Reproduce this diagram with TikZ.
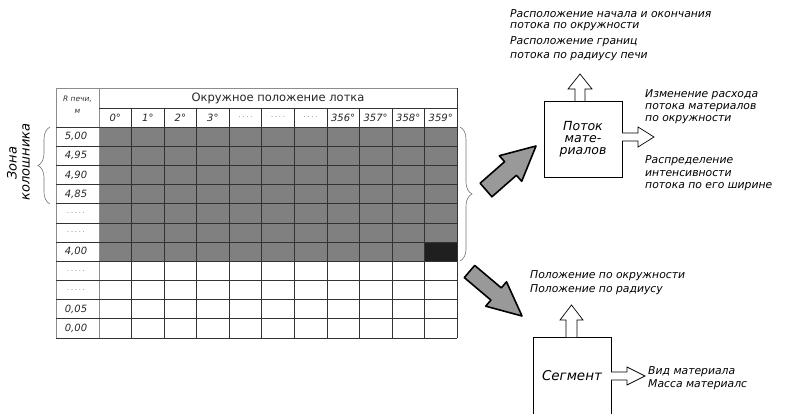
\documentclass[tikz,border=0pt]{standalone}
\usepackage{fontspec}
\setmainfont{DejaVu Sans}
\usetikzlibrary{decorations.pathreplacing}
\tikzset{
  gridline/.style={draw=black!80, line width=0.6pt},
  grayline/.style={draw=black!45, line width=0.6pt},
  hatch/.style={fill=black!50},
  lbl/.style={font=\fontsize{10}{11}\selectfont\itshape, text=black!85, inner sep=0pt},
  dotlbl/.style={font=\fontsize{8}{10}\selectfont, text=black!40, inner sep=0pt},
  note/.style={font=\fontsize{10.8}{12}\selectfont\itshape, anchor=base west, inner sep=0pt},
  bigtxt/.style={font=\fontsize{12.5}{14}\selectfont\itshape},
  bracestyle/.style={draw=black!55, line width=0.6pt, decorate, decoration={brace, amplitude=12pt}},
  blockarrow/.style={fill=black!40, draw=black, line width=1.6pt, line join=round},
  openarrow/.style={fill=white, draw=black, line width=0.7pt, line join=miter},
  boxstyle/.style={draw=black, line width=0.7pt, fill=white}
}
\begin{document}
\begin{tikzpicture}[x=1pt,y=-1pt]
\useasboundingbox (0,0) rectangle (794,414);
% ---- table fills
\fill[hatch] (99,127) rectangle (457,261.2);
\fill[black!88] (424.45,242.0) rectangle (457,261.2);
% ---- grid
\foreach \k in {1,...,10} {
  \draw[gridline] ({99+32.55*\k},108) -- ({99+32.55*\k},338);
}
\draw[grayline] (56,88) -- (56,338);
\draw[grayline] (99,88) -- (99,338);
\draw[gridline] (457,88) -- (457,338);
\draw[grayline] (56,88) -- (457,88);
\draw[gridline] (99,108) -- (457,108);
\foreach \k in {0,...,11} {
  \draw[gridline] (56,{127+19.17*\k}) -- (457,{127+19.17*\k});
}
% ---- header
\node[font=\fontsize{11.5}{13}\selectfont, text=black!85] (hdr) at (278,98) {Окружное положение лотка};
\node[font=\fontsize{7.5}{9}\selectfont\itshape, text=black!80, align=center] (rhdr) at (77.5,105) {R печи,\\[3pt]м};
\foreach \t [count=\i from 0] in {0°,1°,2°,3°} {
  \node[lbl] (c\i) at ({99+32.55*(\i+0.5)},117.5) {\t};
}
\foreach \i in {4,5,6} {
  \node[dotlbl] (c\i) at ({99+32.55*(\i+0.5)},117.5) {.\,.\,.\,.};
}
\foreach \t [count=\i from 7] in {356°,357°,358°,359°} {
  \node[lbl] (c\i) at ({99+32.55*(\i+0.5)},117.5) {\t};
}
\node[lbl] (r0) at (76,{127+19.17*0.5}) {5,00};
\node[lbl] (r1) at (76,{127+19.17*1.5}) {4,95};
\node[lbl] (r2) at (76,{127+19.17*2.5}) {4,90};
\node[lbl] (r3) at (76,{127+19.17*3.5}) {4,85};
\node[dotlbl] (r4) at (76,{127+19.17*4.5}) {.\,.\,.\,.\,.};
\node[dotlbl] (r5) at (76,{127+19.17*5.5}) {.\,.\,.\,.\,.};
\node[lbl] (r6) at (76,{127+19.17*6.5}) {4,00};
\node[dotlbl] (r7) at (76,{127+19.17*7.5}) {.\,.\,.\,.\,.};
\node[dotlbl] (r8) at (76,{127+19.17*8.5}) {.\,.\,.\,.\,.};
\node[lbl] (r9) at (76,{127+19.17*9.5}) {0,05};
\node[lbl] (r10) at (76,{127+19.17*10.5}) {0,00};
% ---- braces
\draw[bracestyle] (50,204) -- (50,127);
\draw[bracestyle] (460,127) -- (460,261);
\node[font=\fontsize{13}{14}\selectfont\itshape, rotate=90] (zona) at (12,163) {Зона};
\node[font=\fontsize{13}{14}\selectfont\itshape, rotate=90] (kol) at (26,162) {колошника};
% ---- big gray arrows
\draw[blockarrow] (491.9,196.8) -- (480.1,183.2) -- (504.6,161.7) -- (499.3,155.7) -- (536,146) -- (521.7,181.3) -- (516.4,175.3) -- cycle;
\draw[blockarrow] (464.3,277.6) -- (474.7,265.4) -- (501.3,287.9) -- (506.5,281.8) -- (522,316) -- (485.7,306.2) -- (490.9,300.1) -- cycle;
% ---- flow box
\node[boxstyle, minimum width=78pt, minimum height=76pt, bigtxt, align=center, inner sep=0pt] (flow) at (583,139) {Поток\\[-2pt]мате-\\[-2pt]риалов};
\draw[openarrow] (575,101) -- (575,89) -- (568,89) -- (580,74) -- (592,89) -- (585,89) -- (585,101);
\draw[openarrow] (622,133) -- (638,133) -- (638,127) -- (654,137) -- (638,147) -- (638,141) -- (622,141);
\node[note] (t1) at (510,18) {Расположение начала и окончания};
\node[note] (t2) at (510,28.5) {потока по окружности};
\node[note] (t3) at (510,45) {Расположение границ};
\node[note] (t4) at (510,58.5) {потока по радиусу печи};
\node[note] (t5) at (645,98) {Изменение расхода};
\node[note] (t6) at (645,110) {потока материалов};
\node[note] (t7) at (645,122) {по окружности};
\node[note] (t8) at (645,164) {Распределение};
\node[note] (t9) at (645,176) {интенсивности};
\node[note] (t10) at (645,188) {потока по его ширине};
% ---- segment box
\draw[draw=black, line width=0.7pt] (533,416) -- (533,337) -- (611,337) -- (611,416);
\node[font=\fontsize{13.5}{15}\selectfont\itshape] (seg) at (572,376) {Сегмент};
\draw[openarrow] (566,337) -- (566,320) -- (560,320) -- (571.5,305) -- (583,320) -- (577,320) -- (577,337);
\draw[openarrow] (611,372) -- (627,372) -- (627,367) -- (645,376) -- (627,385) -- (627,380) -- (611,380);
\node[note] (s1) at (530,278) {Положение по окружности};
\node[note] (s2) at (530,292) {Положение по радиусу};
\node[note] (s3) at (648,374) {Вид материала};
\node[note] (s4) at (648,387) {Масса материалс};
\end{tikzpicture}
\end{document}
